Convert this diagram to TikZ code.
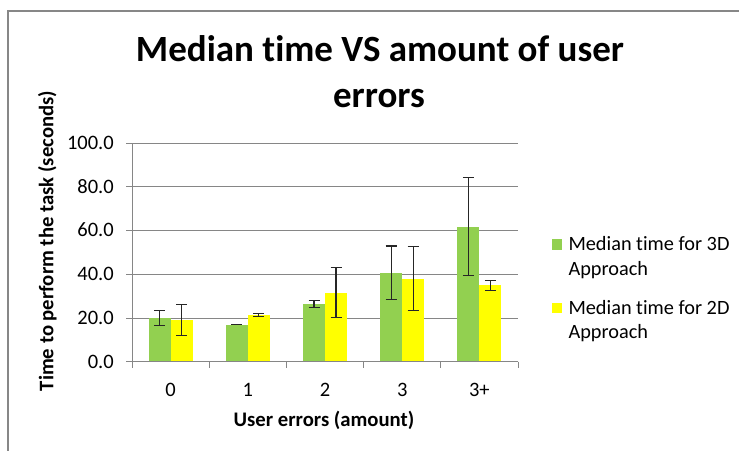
\documentclass[tikz,border=0pt]{standalone}
\usepackage{fontspec}
\setmainfont{Carlito}[Ligatures=CommonOff]
\definecolor{gridc}{HTML}{868686}
\definecolor{framec}{HTML}{878787}
\definecolor{barg}{HTML}{92D050}
\definecolor{bary}{HTML}{FFFF00}
\begin{document}
\begin{tikzpicture}[x=1pt,y=-1pt,
  frameline/.style={draw=framec,line width=2pt},
  gridline/.style={draw=gridc,line width=1pt},
  errbar/.style={draw=black!85,line width=1.1pt},
  titletext/.style={font=\fontsize{37}{44}\selectfont\bfseries,inner sep=0pt,anchor=base},
  ticktext/.style={font=\fontsize{20.5}{24}\selectfont,inner sep=0pt},
  axtitle/.style={font=\fontsize{20.7}{24}\selectfont\bfseries,inner sep=0pt},
  legtext/.style={font=\fontsize{20.3}{24}\selectfont,inner sep=0pt,anchor=base west}]
\useasboundingbox (0,0) rectangle (739,450);
\fill[white] (0,0) rectangle (739,450);
% outer frame (right and bottom edges lie outside the picture)
\draw[frameline] (8.3,460) |- (760,10.7);
% title
\node[titletext] (title1) at (380,61.7) {Median time VS amount of user};
\node[titletext] (title2) at (379,107) {errors};
% gridlines and y tick labels
\foreach \v in {20,40,60,80,100} {
  \draw[gridline] (126,{361.7-2.184*\v}) -- (518,{361.7-2.184*\v});
}
\foreach \v/\l in {0/0.0,20/20.0,40/40.0,60/60.0,80/80.0,100/100.0} {
  \node[ticktext,anchor=base east] (yt\v) at (114,{361.7-2.184*\v+6.3}) {\l};
}
% bars and error bars
\foreach \i/\g/\gl/\gh/\yy/\yl/\yh in {
  0/20.0/16.7/23.4/19.1/12.1/26.3,
  1/16.9/17.0/17.2/21.4/20.5/22.2,
  2/26.4/24.9/27.9/31.5/20.3/43.2,
  3/40.5/28.6/53.0/37.7/23.5/52.7,
  4/61.8/39.6/84.4/35.0/32.7/37.1} {
  \pgfmathsetmacro\c{170.6+77.2*\i}
  \fill[barg] ({\c-22},361.7) rectangle (\c,{361.7-2.184*\g});
  \fill[bary] (\c,361.7) rectangle ({\c+22},{361.7-2.184*\yy});
  \draw[errbar] ({\c-11},{361.7-2.184*\gl}) -- ({\c-11},{361.7-2.184*\gh})
    ({\c-16.5},{361.7-2.184*\gl}) -- ({\c-5.5},{361.7-2.184*\gl})
    ({\c-16.5},{361.7-2.184*\gh}) -- ({\c-5.5},{361.7-2.184*\gh});
  \draw[errbar] ({\c+11},{361.7-2.184*\yl}) -- ({\c+11},{361.7-2.184*\yh})
    ({\c+5.5},{361.7-2.184*\yl}) -- ({\c+16.5},{361.7-2.184*\yl})
    ({\c+5.5},{361.7-2.184*\yh}) -- ({\c+16.5},{361.7-2.184*\yh});
}
% axes
\draw[gridline] (132,143.3) -- (132,361.7);
\draw[gridline] (126,361.7) -- (518,361.7);
\foreach \k in {0,...,5} {
  \draw[gridline] ({132+77.2*\k},361.7) -- ({132+77.2*\k},368);
}
% x tick labels
\foreach \i/\l in {0/0,1/1,2/2,3/3,4/3+} {
  \node[ticktext,anchor=base] (xt\i) at ({170.6+77.2*\i},396) {\l};
}
% axis titles
\node[axtitle,anchor=base] (xtitle) at (324,426.5) {User errors (amount)};
\node[axtitle,rotate=90,anchor=base] (ytitle) at (53.3,241) {Time to perform the task (seconds)};
% legend
\fill[barg] (551.7,239.3) rectangle (562.3,250) node[coordinate] (lg1) {};
\fill[bary] (551.7,302.7) rectangle (562.3,313.4) node[coordinate] (lg2) {};
\node[legtext] (leg1a) at (568.3,250.7) {Median time for 3D};
\node[legtext] (leg1b) at (568.3,275) {Approach};
\node[legtext] (leg2a) at (568.3,314) {Median time for 2D};
\node[legtext] (leg2b) at (568.3,338.3) {Approach};
\end{tikzpicture}
\end{document}
